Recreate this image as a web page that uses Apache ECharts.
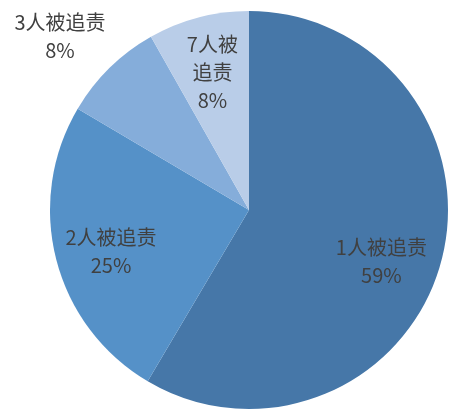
<!DOCTYPE html>
<html>
<head>
<meta charset="utf-8">
<script src="https://cdn.jsdelivr.net/npm/echarts@6/dist/echarts.min.js"></script>
<style>
  html, body { margin: 0; padding: 0; background: #fff; }
  #box { width: 457px; height: 415px; }
</style>
</head>
<body>
<div id="box"></div>
<script>
// 数据
var names = ['1人被追责', '2人被追责', '3人被追责', '7人被追责'];
var values = [58.5, 25, 8.3, 8.2];
var colors = ['#4677A8', '#5591C8', '#85ADDA', '#B9CDE8'];

var cx = 249, cy = 210, R = 199;

var myChart = echarts.init(document.getElementById('box'));

var pieData = [];
for (var i = 0; i < names.length; i++) {
  pieData.push({ name: names[i], value: values[i], itemStyle: { color: colors[i] } });
}

var option = {
  animation: false,
  series: [{
    type: 'pie',
    center: [cx, cy],
    radius: [0, R],
    startAngle: 90,
    clockwise: true,
    percentPrecision: 0,
    avoidLabelOverlap: false,
    data: pieData,
    label: {
      show: true,
      position: 'inside',
      fontFamily: 'Noto Sans CJK SC',
      fontSize: 20,
      lineHeight: 28,
      color: '#404040',
      align: 'center',
      formatter: function (p) {
        var n = p.dataIndex === 3 ? '7人被\n追责' : p.name;
        return n + '\n' + p.percent + '%';
      }
    },
    labelLine: { show: false },
    // 把标签从半径一半处往外推
    labelLayout: function (p) {
      var r = p.labelRect;
      var lx = r.x + r.width / 2, ly = r.y + r.height / 2;
      var k = p.dataIndex === 2 ? 2.55 : 1.44;
      var x = cx + (lx - cx) * k, y = cy + (ly - cy) * k;
      if (p.dataIndex === 0) { x -= 10; y += 12; }
      if (p.dataIndex === 1) { x += 5; y += 5; }
      if (p.dataIndex === 2) { x -= 6; y += 13; }
      if (p.dataIndex === 3) { x += 1; y += 5; }
      return { x: x, y: y, align: 'center', verticalAlign: 'middle' };
    }
  }]
};
myChart.setOption(option);
</script>
</body>
</html>
